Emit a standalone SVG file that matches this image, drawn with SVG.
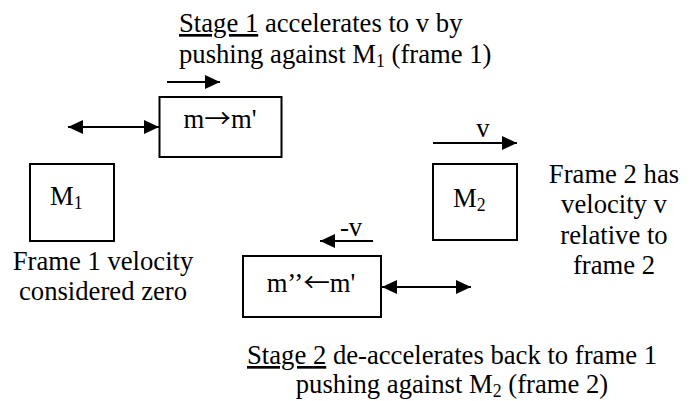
<svg xmlns="http://www.w3.org/2000/svg" width="693" height="401" viewBox="0 0 693 401">
<style>
text{font-family:"Liberation Serif","DejaVu Serif",serif;font-size:26.67px;fill:#000}
.box{fill:#fff;stroke:#000;stroke-width:2}
.arr{stroke:#000;stroke-width:2;fill:none}
.sub{font-size:17.8px}
.sym{font-family:"Noto Sans CJK JP","DejaVu Sans",sans-serif;font-size:26.67px}
</style>
<defs>
<marker id="ah" markerUnits="userSpaceOnUse" markerWidth="16" markerHeight="14" refX="15" refY="7" orient="auto-start-reverse">
<path d="M0,0 L15,7 L0,14 Z" fill="#000"/>
</marker>
</defs>
<rect width="693" height="401" fill="#fff"/>
<g id="stage1-label">
<text x="179" y="32"><tspan text-decoration="underline">Stage 1</tspan> accelerates to v by</text>
<text x="179" y="63">pushing against M<tspan class="sub" dy="4">1</tspan><tspan dy="-4"> (frame 1)</tspan></text>
</g>
<g id="m-box">
<rect class="box" x="159.5" y="97" width="122" height="60"/>
<text x="220" y="128" text-anchor="middle">m<tspan class="sym">→</tspan>m'</text>
</g>
<g id="M1">
<rect class="box" x="30" y="164" width="84" height="77"/>
<text x="50" y="205">M<tspan class="sub" dy="4">1</tspan></text>
</g>
<g id="frame1-label">
<text x="103" y="270" text-anchor="middle">Frame 1 velocity</text>
<text x="103" y="300" text-anchor="middle">considered zero</text>
</g>
<g id="M2">
<rect class="box" x="433" y="164" width="84" height="76"/>
<text x="453" y="207">M<tspan class="sub" dy="4">2</tspan></text>
</g>
<g id="frame2-label">
<text x="614" y="183" text-anchor="middle">Frame 2 has</text>
<text x="614" y="213" text-anchor="middle">velocity v</text>
<text x="614" y="244" text-anchor="middle">relative to</text>
<text x="614" y="274" text-anchor="middle">frame 2</text>
</g>
<g id="m2-box">
<rect class="box" x="243" y="256" width="138" height="61"/>
<text x="311" y="292" text-anchor="middle">m’’<tspan class="sym">←</tspan>m'</text>
</g>
<g id="stage2-label">
<text x="452" y="364" text-anchor="middle"><tspan text-decoration="underline">Stage 2</tspan> de-accelerates back to frame 1</text>
<text x="452" y="393" text-anchor="middle">pushing against M<tspan class="sub" dy="4">2</tspan><tspan dy="-4"> (frame 2)</tspan></text>
</g>
<g id="velocity-labels">
<text x="483" y="137" text-anchor="middle">v</text>
<text x="351" y="236" text-anchor="middle">-v</text>
</g>
<g id="connectors">
<line class="arr" x1="167" y1="82" x2="220" y2="82" marker-end="url(#ah)"/>
<line class="arr" x1="68" y1="127" x2="159" y2="127" marker-start="url(#ah)" marker-end="url(#ah)"/>
<line class="arr" x1="433" y1="143" x2="517" y2="143" marker-end="url(#ah)"/>
<line class="arr" x1="373" y1="241" x2="320" y2="241" marker-end="url(#ah)"/>
<line class="arr" x1="382" y1="287" x2="471" y2="287" marker-start="url(#ah)" marker-end="url(#ah)"/>
</g>
</svg>
